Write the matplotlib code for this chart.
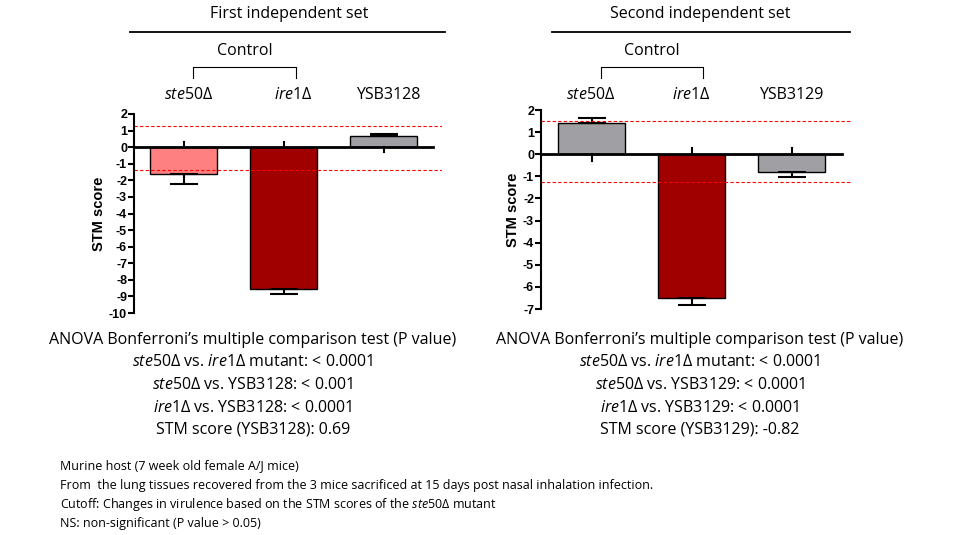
import matplotlib
matplotlib.use("Agg")
import matplotlib.pyplot as plt

plt.rcParams['mathtext.fontset'] = 'custom'
plt.rcParams['mathtext.rm'] = 'Open Sans'
plt.rcParams['mathtext.it'] = 'Open Sans:italic'

strains1 = ["ste50", "ire1", "YSB3128"]
scores1 = [-1.6, -8.55, 0.69]
errs1 = [0.6, 0.3, 0.1]
cut1 = [1.25, -1.35]
colors1 = ["#FF8080", "#A00000", "#A0A0A4"]
strains2 = ["ste50", "ire1", "YSB3129"]
scores2 = [1.42, -6.5, -0.82]
errs2 = [0.2, 0.3, 0.2]
cut2 = [1.52, -1.27]
colors2 = ["#A0A0A4", "#A00000", "#A0A0A4"]

W, H = 960, 535
fig = plt.figure(figsize=(9.6, 5.35), dpi=100)

def fx(p): return p / W
def fy(p): return 1 - p / H

def panel(left_px, right_px, top_px, bot_px, ylim, yticks, vals, errs, cols, cuts, xl, xr, zr):
    ax = fig.add_axes([fx(left_px), fy(bot_px), fx(right_px - left_px), (bot_px - top_px) / H])
    x = list(range(len(vals)))
    ax.bar(x, vals, width=0.67, color=cols, edgecolor="black", linewidth=1)
    for xi, v, e in zip(x, vals, errs):
        s = 1 if v > 0 else -1
        ax.errorbar([xi], [v], yerr=[[0 if s > 0 else e], [e if s > 0 else 0]],
                    fmt="none", ecolor="black", elinewidth=1.5, capsize=10, capthick=1.5)
        ax.plot([xi, xi], [0, -s * 0.3], color="black", lw=1.5)
    ax.plot([xl, zr], [0, 0], color="black", lw=2, clip_on=False)
    for c in cuts:
        ax.axhline(c, color="red", ls=(0, (3, 2)), lw=0.8)
    ax.set_xlim(xl, xr)
    ax.set_ylim(*ylim)
    ax.set_yticks(yticks)
    ax.set_yticklabels([str(t) for t in yticks], fontfamily="Liberation Sans", fontweight="bold", fontsize=9)
    for s in ["top", "right", "bottom"]:
        ax.spines[s].set_visible(False)
    ax.spines["left"].set_linewidth(1.5)
    ax.tick_params(axis="y", length=4, width=1.5, pad=1)
    ax.set_xticks([])
    ax.set_ylabel("STM score", fontfamily="Liberation Sans", fontweight="bold", fontsize=10.5, labelpad=2)
    return ax

panel(134, 442, 114, 313, (-10, 2), list(range(2, -11, -1)), scores1, errs1, colors1, cut1, -0.495, 2.585, 2.495)
panel(541, 851, 110, 309, (-7, 2), list(range(2, -8, -1)), scores2, errs2, colors2, cut2, -0.505, 2.595, 2.505)

tk = dict(fontfamily="Open Sans", fontsize=11.5, ha="center", va="center")

def header(title, cx, x0, x1, bx0, bx1, labs, lx):
    fig.text(fx(cx), fy(14), title, **tk)
    fig.add_artist(plt.Line2D([fx(x0), fx(x1)], [fy(32), fy(32)], color="black", lw=1.3))
    fig.text(fx((bx0 + bx1) / 2), fy(51), "Control", **tk)
    fig.add_artist(plt.Line2D([fx(bx0), fx(bx0), fx(bx1), fx(bx1)],
                              [fy(78), fy(67), fy(67), fy(78)], color="black", lw=0.8))
    for l, xx in zip(labs, lx):
        if l.startswith("YSB"):
            fig.text(fx(xx), fy(95), l, **tk)
        else:
            fig.text(fx(xx), fy(95), r"$\it{%s}$Δ" % l, **tk)

header("First independent set", 289, 130, 445, 193, 296, strains1, [189, 293, 388])
header("Second independent set", 700, 552, 850, 601, 703, strains2, [591, 691, 791])

def stats(cx, ysb, score):
    lines = ["ANOVA Bonferroni’s multiple comparison test (P value)",
             r"$\it{ste50}$Δ vs. $\it{ire1}$Δ mutant: < 0.0001",
             r"$\it{ste50}$Δ vs. %s: < %s" % (ysb, "0.001" if ysb == "YSB3128" else "0.0001"),
             r"$\it{ire1}$Δ vs. %s: < 0.0001" % ysb,
             "STM score (%s): %s" % (ysb, score)]
    for i, l in enumerate(lines):
        fig.text(fx(cx), fy(340 + 22.5 * i), l, **tk)

stats(253, "YSB3128", "0.69")
stats(700, "YSB3129", "-0.82")

fn = dict(fontfamily="Open Sans", fontsize=9, ha="left", va="center")
foot = ["Murine host (7 week old female A/J mice)",
        "From  the lung tissues recovered from the 3 mice sacrificed at 15 days post nasal inhalation infection.",
        r"Cutoff: Changes in virulence based on the STM scores of the $\it{ste50}$Δ mutant",
        "NS: non-significant (P value > 0.05)"]
for i, l in enumerate(foot):
    fig.text(fx(60), fy(466 + 19.3 * i), l, **fn)

fig.savefig("out.png", dpi=100)
